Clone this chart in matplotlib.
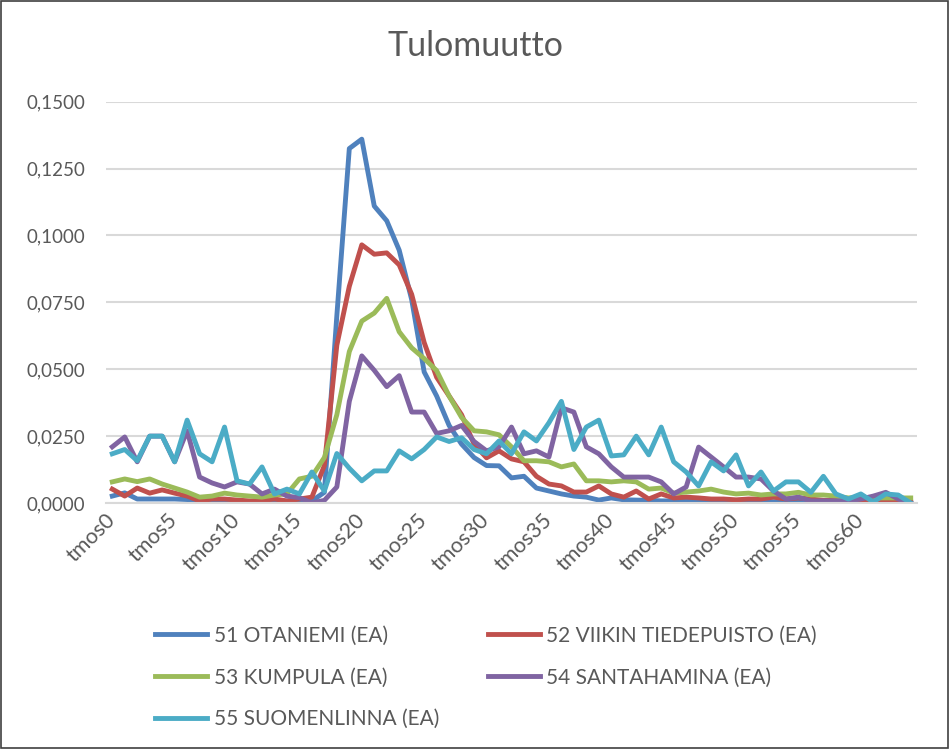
import matplotlib
matplotlib.use('Agg')
import matplotlib.pyplot as plt
from matplotlib.patches import Rectangle
from matplotlib.transforms import ScaledTranslation

plt.rcParams['font.family'] = ['Lato', 'DejaVu Sans']

# categories tmos0..tmos64
categories = ['tmos%d' % i for i in range(65)]

otaniemi = [0.0026, 0.0038, 0.0015, 0.0015, 0.0015, 0.0015, 0.0013, 0.0008, 0.0008, 0.0005,
            0.0004, 0.0003, 0.0003, 0.0003, 0.0003, 0.0004, 0.0008, 0.004, 0.07, 0.1325,
            0.136, 0.111, 0.1055, 0.0945, 0.076, 0.049, 0.040, 0.029, 0.022, 0.017,
            0.014, 0.0139, 0.0094, 0.010, 0.0056, 0.0045, 0.0034, 0.0026, 0.0022, 0.0011,
            0.0019, 0.0012, 0.0011, 0.0010, 0.0008, 0.0008, 0.0007, 0.0007, 0.0007, 0.0006,
            0.0005, 0.0005, 0.0005, 0.0005, 0.0004, 0.0004, 0.0004, 0.0003, 0.0003, 0.0003,
            0.0002, 0.0002, 0.0002, 0.0001, 0.0001]

viikki = [0.0052, 0.0026, 0.0056, 0.0037, 0.0049, 0.0037, 0.0026, 0.0008, 0.0015, 0.0015,
          0.0011, 0.0008, 0.0010, 0.0015, 0.0008, 0.0015, 0.0022, 0.014, 0.059, 0.081,
          0.0965, 0.093, 0.0935, 0.089, 0.078, 0.060, 0.047, 0.040, 0.033, 0.022,
          0.0169, 0.0195, 0.0165, 0.0154, 0.010, 0.0071, 0.0064, 0.0041, 0.0041, 0.0064,
          0.0034, 0.0022, 0.0045, 0.0015, 0.0034, 0.0019, 0.0022, 0.0019, 0.0015, 0.0015,
          0.0012, 0.0015, 0.0015, 0.0022, 0.0015, 0.0019, 0.0015, 0.0010, 0.0010, 0.0005,
          0.0003, 0.0003, 0.0003, 0.0003, 0.0003]

kumpula = [0.0079, 0.009, 0.008, 0.009, 0.0071, 0.0056, 0.0041, 0.0022, 0.0026, 0.0037,
           0.003, 0.0026, 0.0022, 0.0030, 0.0034, 0.009, 0.010, 0.017, 0.033, 0.0566,
           0.068, 0.071, 0.0765, 0.064, 0.058, 0.054, 0.0495, 0.040, 0.032, 0.027,
           0.0266, 0.0255, 0.021, 0.0158, 0.0158, 0.0154, 0.0135, 0.0146, 0.0083, 0.0083,
           0.0079, 0.0083, 0.0079, 0.0052, 0.0056, 0.0037, 0.0041, 0.0045, 0.0052, 0.0041,
           0.0034, 0.0037, 0.003, 0.0034, 0.0034, 0.004, 0.003, 0.003, 0.0026, 0.0019,
           0.0022, 0.0019, 0.0019, 0.0019, 0.0019]

santahamina = [0.021, 0.0247, 0.0154, 0.025, 0.025, 0.0154, 0.027, 0.0097, 0.0075, 0.006,
               0.0079, 0.0071, 0.0034, 0.0052, 0.0026, 0.002, 0.0, 0.001, 0.006, 0.038,
               0.055, 0.0496, 0.0435, 0.0476, 0.034, 0.034, 0.026, 0.027, 0.029, 0.023,
               0.0195, 0.021, 0.0284, 0.0184, 0.0195, 0.0172, 0.0356, 0.034, 0.021, 0.0184,
               0.0135, 0.0097, 0.0097, 0.0097, 0.0079, 0.0034, 0.006, 0.0209, 0.0172, 0.0135,
               0.0097, 0.0097, 0.009, 0.0045, 0.0015, 0.0022, 0.0008, 0.0008, 0.0008, 0.0008,
               0.0015, 0.0026, 0.004, 0.0015, 0.0]

suomenlinna = [0.0184, 0.020, 0.0158, 0.025, 0.025, 0.0154, 0.031, 0.0184, 0.0154, 0.0284,
               0.0083, 0.0071, 0.0135, 0.0034, 0.0052, 0.0034, 0.0116, 0.0045, 0.0185, 0.013,
               0.0083, 0.012, 0.012, 0.0195, 0.0165, 0.020, 0.0247, 0.023, 0.0244, 0.020,
               0.0184, 0.0232, 0.0184, 0.0266, 0.0232, 0.030, 0.038, 0.020, 0.0284, 0.031,
               0.0176, 0.018, 0.025, 0.018, 0.0284, 0.0154, 0.0116, 0.0064, 0.0154, 0.012,
               0.018, 0.0064, 0.0116, 0.0045, 0.0079, 0.0079, 0.004, 0.010, 0.0034, 0.0015,
               0.0034, 0.0004, 0.0034, 0.003, 0.0]

series = [
    ('51 OTANIEMI (EA)', otaniemi, '#4F81BD'),
    ('52 VIIKIN TIEDEPUISTO (EA)', viikki, '#C0504D'),
    ('53 KUMPULA (EA)', kumpula, '#9BBB59'),
    ('54 SANTAHAMINA (EA)', santahamina, '#8064A2'),
    ('55 SUOMENLINNA (EA)', suomenlinna, '#4BACC6'),
]

fig = plt.figure(figsize=(9.51, 7.49), dpi=100)
ax = fig.add_axes([0.1115, 0.3284, 0.8527, 0.5358])

x = list(range(len(categories)))
lines = []
for name, vals, col in series:
    ln, = ax.plot(x, vals, color=col, lw=3.5, label=name, solid_joinstyle='round')
    lines.append(ln)

ax.set_xlim(-0.5, len(categories) - 0.5)
ax.set_ylim(0, 0.15)
yt = [0, 0.025, 0.05, 0.075, 0.1, 0.125, 0.15]
ax.set_yticks(yt)
ax.set_yticklabels([('%.4f' % v).replace('.', ',') for v in yt])
ax.set_xticks(x[::5])
ax.set_xticklabels(categories[::5], rotation=45, ha='right', va='top')
ax.grid(axis='y', color='#d9d9d9', lw=1.5)
ax.set_axisbelow(True)
for s in ['top', 'right', 'left']:
    ax.spines[s].set_visible(False)
ax.spines['bottom'].set_color('#d9d9d9')
ax.spines['bottom'].set_linewidth(1.5)
ax.tick_params(length=0, colors='#595959')
ax.tick_params(axis='y', labelsize=13.5, pad=15)
ax.tick_params(axis='x', labelsize=15.5, pad=5)

# nudge rotated x labels to the right, like the original
shift = ScaledTranslation(7 / 100, 0, fig.dpi_scale_trans)
for lab in ax.get_xticklabels():
    lab.set_transform(lab.get_transform() + shift)

fig.text(0.5, 0.938, 'Tulomuutto', ha='center', va='center', fontsize=24.5, color='#595959')

# legend filled row by row like Excel
order = [0, 2, 4, 1, 3]
fig.legend([lines[i] for i in order], [series[i][0] for i in order],
           loc='upper left', bbox_to_anchor=(0.1435, 0.1896), ncol=2, frameon=False,
           fontsize=15, handlelength=2.5, handletextpad=0.3, columnspacing=2.35,
           labelspacing=1.04, labelcolor='#595959')

fig.patches.append(Rectangle((0.001, 0.002), 0.996, 0.996, transform=fig.transFigure,
                             fill=False, ec='#404040', lw=1.2))

fig.savefig('out.png', dpi=100)
